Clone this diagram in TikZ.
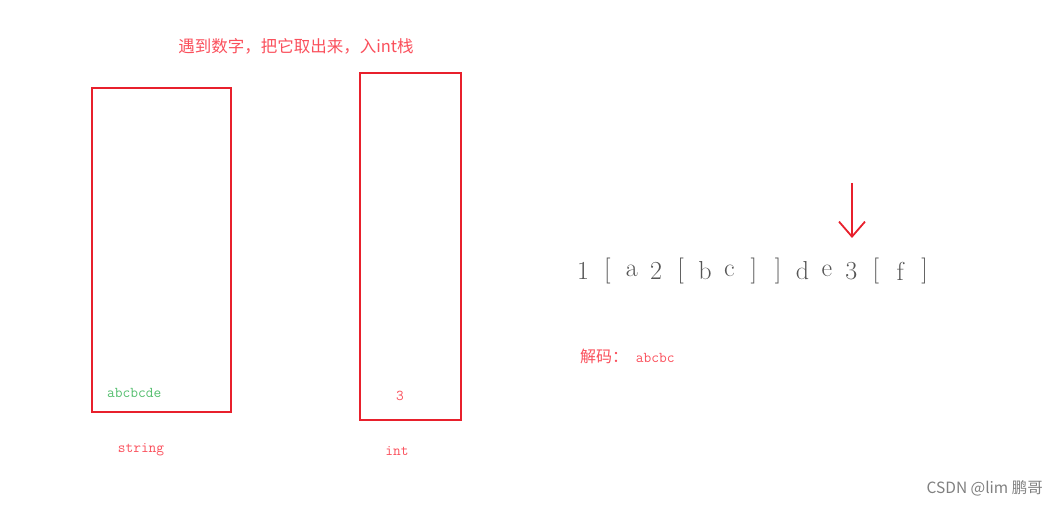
\documentclass[tikz,border=0pt]{standalone}
\usepackage{fontspec}
\usetikzlibrary{arrows.meta}
\newfontfamily\cjk{Noto Sans CJK SC}
\definecolor{boxred}{RGB}{232,32,44}
\definecolor{txtred}{RGB}{250,80,92}
\definecolor{txtgreen}{RGB}{84,190,110}
\definecolor{seqgray}{RGB}{85,85,85}
\tikzset{
  stackbox/.style={draw=boxred, line width=2.4pt},
  note/.style={text=txtred, inner sep=0pt, font=\ttfamily\fontsize{15}{17}\selectfont},
  tok/.style={text=seqgray, inner sep=0pt, font=\fontsize{26}{28}\selectfont}
}
\begin{document}
\begin{tikzpicture}[x=1pt, y=-1pt]
            \useasboundingbox (0,0) rectangle (1059,505);

            % the two stacks
            \draw[stackbox] (92,88) rectangle (231,412);
            \draw[stackbox] (360,73) rectangle (461,420);

            \node[note, font=\cjk\fontsize{16.5}{18}\selectfont] (title) at (296,46) {遇到数字，把它取出来，入int栈};
            \node[note, text=txtgreen, anchor=west] (strtop) at (107,393) {abcbcde};
            \node[note] (inttop) at (400,396) {3};
            \node[note] (strname) at (141,450) {string};
            \node[note] (intname) at (397,451) {int};

            % the encoded string
            \foreach \c [count=\i] in {1,[,a,2,[,b,c,],],d,e,3,[,f,]}
                \node[tok] (t\i) at (583+24.4*\i-24.4,271) {\c};

            \coordinate (arrtop) at (852,183);
            \coordinate (arrend) at ([yshift=24pt]t12.north);
            \draw[boxred, line width=1.8pt, -{Straight Barb[length=15pt,width=26pt]}] (arrtop) -- (arrtop |- arrend);

            \node[note, anchor=west] (decoded) at (580,356) {{\cjk\fontsize{16}{18}\selectfont 解码：} abcbc};

            \node[text=gray, anchor=east, inner sep=0pt, font=\cjk\fontsize{15.5}{17}\selectfont] (mark) at (1043,488) {CSDN @lim 鹏哥};
        \end{tikzpicture}
\end{document}
